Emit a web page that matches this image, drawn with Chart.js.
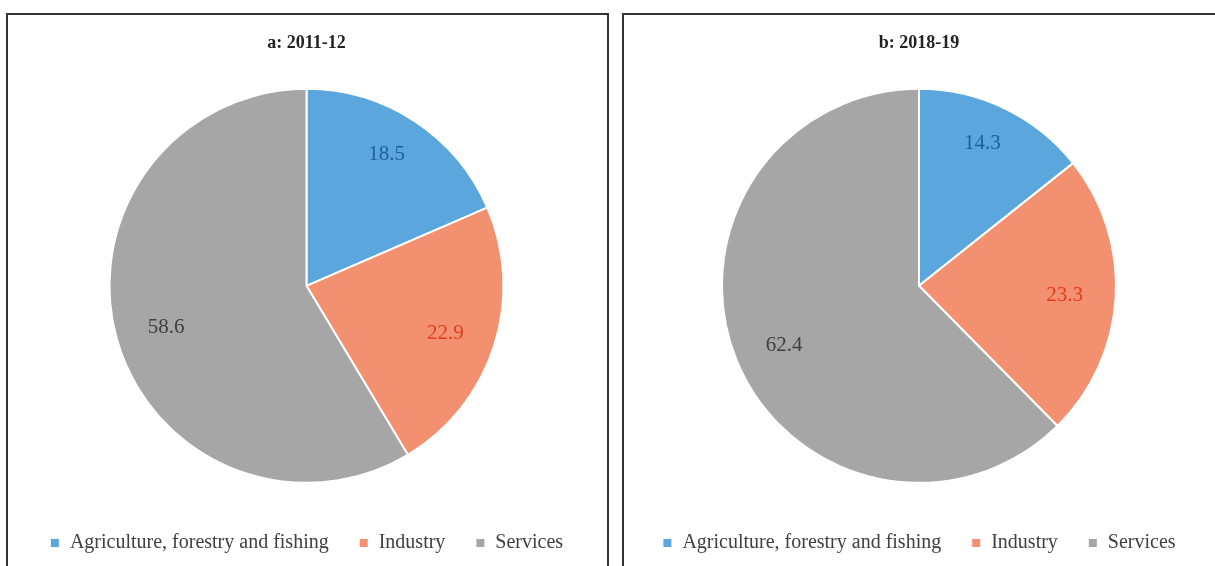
<!DOCTYPE html>
<html><head><meta charset="utf-8">
<script src="https://cdn.jsdelivr.net/npm/chart.js@4/dist/chart.umd.min.js"></script>
<style>
html,body{margin:0;padding:0;background:#fff;width:1215px;height:566px;overflow:hidden;}
.panel{position:absolute;top:13px;height:560px;border:2px solid #333;box-sizing:border-box;background:#fff;}
#p1{left:6px;width:603px;}
#p2{left:622px;width:600px;}
.panel canvas{position:absolute;left:0;top:0;}
</style></head>
<body>
<div class="panel" id="p1"><canvas id="c1" width="597" height="556"></canvas></div>
<div class="panel" id="p2"><canvas id="c2" width="590" height="556"></canvas></div>
<script>
const categories = ["Agriculture, forestry and fishing", "Industry", "Services"];
const titles = ["a: 2011-12", "b: 2018-19"];
const shares2011 = [18.5, 22.9, 58.6];
const shares2018 = [14.3, 23.3, 62.4];
const sliceColors = ["#5ba7dd", "#f3906f", "#a6a6a6"];
const labelColors = ["#1f5f9a", "#e53c1e", "#404040"];

const labelPlugin = {
  id: 'sliceLabels',
  afterDatasetsDraw(chart) {
    const ctx = chart.ctx;
    const meta = chart.getDatasetMeta(0);
    const ds = chart.data.datasets[0];
    ctx.save();
    ctx.font = '21px "Liberation Serif", serif';
    ctx.textAlign = 'center';
    ctx.textBaseline = 'middle';
    meta.data.forEach((arc, i) => {
      const p = arc.getProps(['x','y','startAngle','endAngle','outerRadius'], true);
      const mid = (p.startAngle + p.endAngle) / 2;
      const r = p.outerRadius * 0.74;
      ctx.fillStyle = labelColors[i];
      ctx.fillText(ds.data[i].toFixed(1), p.x + Math.cos(mid) * r, p.y + Math.sin(mid) * r * 1.08);
    });
    ctx.restore();
  }
};

function makeChart(id, title, values) {
  return new Chart(document.getElementById(id), {
    type: 'pie',
    data: {
      labels: categories,
      datasets: [{ data: values, backgroundColor: sliceColors, borderColor: '#ffffff', borderWidth: 2, radius: 197 }]
    },
    options: {
      responsive: false,
      animation: false,
      layout: { padding: { left: 0, right: 0, top: 0, bottom: 8 } },
      plugins: {
        title: {
          display: true, text: title, color: '#222',
          font: { family: '"Liberation Serif", serif', size: 18, weight: 'bold' },
          padding: { top: 18, bottom: 14 }
        },
        legend: {
          position: 'bottom',
          labels: {
            color: '#404040', boxWidth: 10, boxHeight: 10, padding: 30,
            font: { family: '"Liberation Serif", serif', size: 20 }
          }
        },
        tooltip: { enabled: false }
      }
    },
    plugins: [labelPlugin]
  });
}
makeChart('c1', titles[0], shares2011);
makeChart('c2', titles[1], shares2018);
</script>
</body></html>
